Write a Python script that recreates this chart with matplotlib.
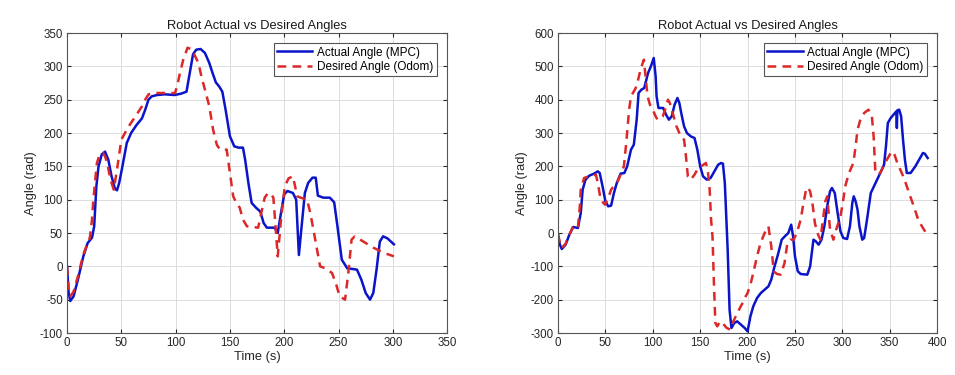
import matplotlib
matplotlib.use("Agg")
import matplotlib.pyplot as plt

# Left run: actual (MPC) vs desired (odom) heading
t_act_1 = [0, 1.5, 3, 6, 10, 15, 19, 23, 25, 27, 29, 32, 35, 38, 41, 44, 46, 48, 51, 55,
           59, 64, 69, 72, 75, 78, 83, 90, 99, 105, 110, 113, 116, 119, 123, 127, 131, 134,
           137, 140, 143, 146, 150, 154, 158, 162, 164, 167, 170, 174, 178, 181, 184, 191,
           194, 197, 200, 203, 208, 211, 213.5, 216, 219, 222, 226, 229, 231, 236, 242, 246,
           249, 253, 258, 263, 267, 271, 275, 279, 282, 285, 288, 291, 295, 301]
a_act_1 = [0, -40, -52, -45, -20, 15, 35, 43, 60, 120, 150, 168, 172, 160, 135, 117, 114, 125,
           150, 185, 200, 212, 222, 235, 250, 255, 257, 258, 257, 259, 262, 290, 318, 325, 326,
           320, 305, 290, 276, 270, 262, 235, 195, 180, 178, 178, 160, 125, 95, 88, 82, 65,
           58, 58, 50, 80, 108, 113, 110, 100, 17, 60, 110, 125, 133, 133, 106, 103, 103, 96,
           60, 10, -3, -4, -5, -20, -40, -50, -40, -5, 37, 45, 42, 33]

t_des_1 = [0, 1.5, 3, 6, 10, 15, 19, 21, 23, 24, 26, 27.5, 30, 33, 35, 37, 40, 43, 46, 50,
           55, 58, 63, 69, 72, 75, 80, 99.5, 102, 104, 107, 111, 115, 118, 121, 124, 127, 131,
           134.5, 138, 141, 147, 150, 153, 156, 159, 162, 165.7, 176, 179.5, 182, 185, 188,
           190, 192, 194, 197, 200.5, 204, 208, 210, 212, 215, 221, 224, 228, 233, 238, 244,
           248, 251, 256, 259, 262, 265, 272, 282, 292, 301]
a_des_1 = [0, -35, -45, -38, -15, 18, 35, 43, 70, 95, 130, 155, 168, 170, 165, 155, 130, 115,
           145, 190, 205, 213, 225, 240, 250, 258, 260, 260, 275, 290, 310, 328, 325, 315, 305,
           283, 265, 240, 205, 182, 175, 175, 140, 105, 95, 88, 70, 60, 58, 85, 103, 110, 108,
           103, 60, 15, 70, 120, 132, 135, 120, 105, 103, 100, 80, 45, 0, -3, -10, -28, -45,
           -50, -10, 40, 45, 38, 28, 20, 15]

# Right run
t_act_2 = [0, 2, 4, 8, 12, 16, 21, 24, 26, 29, 33, 38, 42, 44, 47, 50, 53, 56, 59, 62, 66, 70,
           73, 77, 80, 83, 85, 88, 91, 95, 98, 101, 103, 104, 106, 111, 114, 117, 120, 123,
           126, 128, 130, 133, 136, 140, 144, 147, 150, 153, 157, 161, 165, 169, 172, 174,
           176, 179, 181, 183, 186, 189, 193, 197, 200, 203, 206, 210, 214, 218, 222, 225,
           228, 232, 236, 240, 243, 246, 248, 250, 253, 256, 263, 266, 269.5, 272, 275, 278,
           281, 284, 287, 289, 292, 295, 298, 301, 305, 308, 310.5, 312, 314, 316, 318, 321,
           323, 326, 330, 335, 340, 344, 346, 348, 351, 354, 357, 357.5, 358, 360, 362, 364,
           366, 368, 372, 377, 382, 385, 387, 390]
a_act_2 = [-5, -35, -48, -35, -5, 18, 15, 60, 130, 160, 172, 178, 185, 180, 140, 95, 80, 82,
           120, 150, 178, 180, 200, 250, 265, 340, 420, 430, 435, 480, 500, 525, 470, 410, 375,
           375, 355, 340, 350, 385, 405, 390, 360, 320, 300, 290, 285, 250, 200, 170, 160,
           165, 185, 205, 210, 208, 150, -50, -230, -285, -270, -265, -275, -285, -295, -250,
           -220, -195, -180, -170, -160, -140, -105, -65, -20, -8, 0, 25, -10, -70, -115,
           -123, -125, -100, -20, -25, -35, -20, 20, 80, 125, 135, 120, 60, 5, -15, -18, 20,
           90, 110, 95, 70, 20, -20, -15, 40, 120, 150, 180, 205, 260, 330, 345, 355, 365,
           315, 368, 370, 350, 280, 220, 180, 180, 200, 225, 240, 238, 225]

t_des_2 = [0, 2, 4, 8, 12, 16, 21, 23, 24, 27.5, 32, 36, 40, 42, 45, 49.5, 53, 56, 60, 63, 66,
           69.5, 72, 75, 77, 80, 82, 85, 87, 90.6, 92, 94.5, 97, 100, 103, 105, 108, 110.5,
           113, 116, 118, 121, 125, 129.5, 133, 135, 137, 140, 144, 147, 151, 156, 158, 160,
           161.5, 163, 164.5, 166, 168, 170, 172, 175, 178, 182, 185, 187.5, 191, 194.7, 198,
           200, 203, 206, 210, 213.7, 218, 222, 225, 227.6, 231, 235, 239, 242, 245, 248.5,
           252, 256, 259, 262, 264, 266, 268.4, 271, 273.7, 276.8, 280, 282, 284, 285.5, 287,
           290.5, 294, 298, 301, 303, 307, 311.6, 314, 316, 319, 323, 327.5, 331, 333, 334.7,
           337, 340, 345, 350, 352.6, 355, 358, 365, 371.6, 376, 380, 385, 389.5]
a_des_2 = [-3, -30, -45, -32, -5, 20, 15, 80, 130, 165, 170, 172, 175, 150, 100, 85, 105, 130,
           145, 155, 175, 200, 270, 370, 410, 425, 435, 465, 490, 520, 480, 410, 385, 370, 350,
           340, 345, 350, 370, 400, 390, 360, 320, 290, 280, 230, 170, 160, 175, 190, 200,
           210, 190, 130, 40, -10, -150, -270, -280, -270, -265, -275, -285, -290, -265, -250,
           -230, -210, -190, -180, -155, -120, -70, -30, 0, 20, -40, -115, -123, -125, -90,
           -30, -20, -20, 0, 40, 90, 135, 135, 125, 90, 30, 0, -20, 50, 95, 110, 60, 10, -20,
           15, 50, 100, 140, 180, 210, 260, 310, 340, 360, 370, 355, 290, 190, 175, 180, 210,
           235, 245, 235, 210, 165, 110, 75, 40, 15, -5]

runs = [
    (t_act_1, a_act_1, t_des_1, a_des_1, (0, 350), (-100, 350), 50),
    (t_act_2, a_act_2, t_des_2, a_des_2, (0, 400), (-300, 600), 100),
]

plt.rcParams['font.family'] = ['Liberation Sans', 'DejaVu Sans']
plt.rcParams['font.size'] = 8
plt.rcParams['axes.unicode_minus'] = False

fig = plt.figure(figsize=(9.55, 3.75), dpi=100)
positions = [[0.0702, 0.112, 0.398, 0.8], [0.5843, 0.112, 0.397, 0.8]]

for pos, (ta, aa, td, ad, xl, yl, ystep) in zip(positions, runs):
    ax = fig.add_axes(pos)
    ax.plot(ta, aa, color='#0a14c8', lw=1.8, label='Actual Angle (MPC)')
    ax.plot(td, ad, color='#dc2828', lw=1.8, ls=(0, (3.5, 2.5)), label='Desired Angle (Odom)')
    ax.set_xlim(*xl)
    ax.set_ylim(*yl)
    ax.set_xticks(range(xl[0], xl[1] + 1, 50))
    ax.set_yticks(range(yl[0], yl[1] + 1, ystep))
    ax.grid(True, color='#dcdcdc', lw=0.7)
    ax.set_axisbelow(True)
    for s in ax.spines.values():
        s.set_color('#555555')
        s.set_linewidth(0.8)
    ax.tick_params(direction='in', length=3, colors='#262626', labelsize=8.3,
                   top=True, right=True, pad=3)
    ax.set_title('Robot Actual vs Desired Angles', fontsize=9.3, color='#1a1a1a', pad=3)
    ax.set_xlabel('Time (s)', fontsize=9.3, color='#262626', labelpad=1)
    ax.set_ylabel('Angle (rad)', fontsize=9.3, color='#262626', labelpad=2)
    leg = ax.legend(loc='upper right', bbox_to_anchor=(1 - 10 / 380, 1 - 10 / 300),
                    borderaxespad=0, fancybox=False, fontsize=8.5, handlelength=3,
                    borderpad=0.3, labelspacing=0.2, handletextpad=0.4, framealpha=1)
    leg.get_frame().set_edgecolor('#555555')
    leg.get_frame().set_linewidth(0.8)

plt.savefig("out.png", dpi=100)
